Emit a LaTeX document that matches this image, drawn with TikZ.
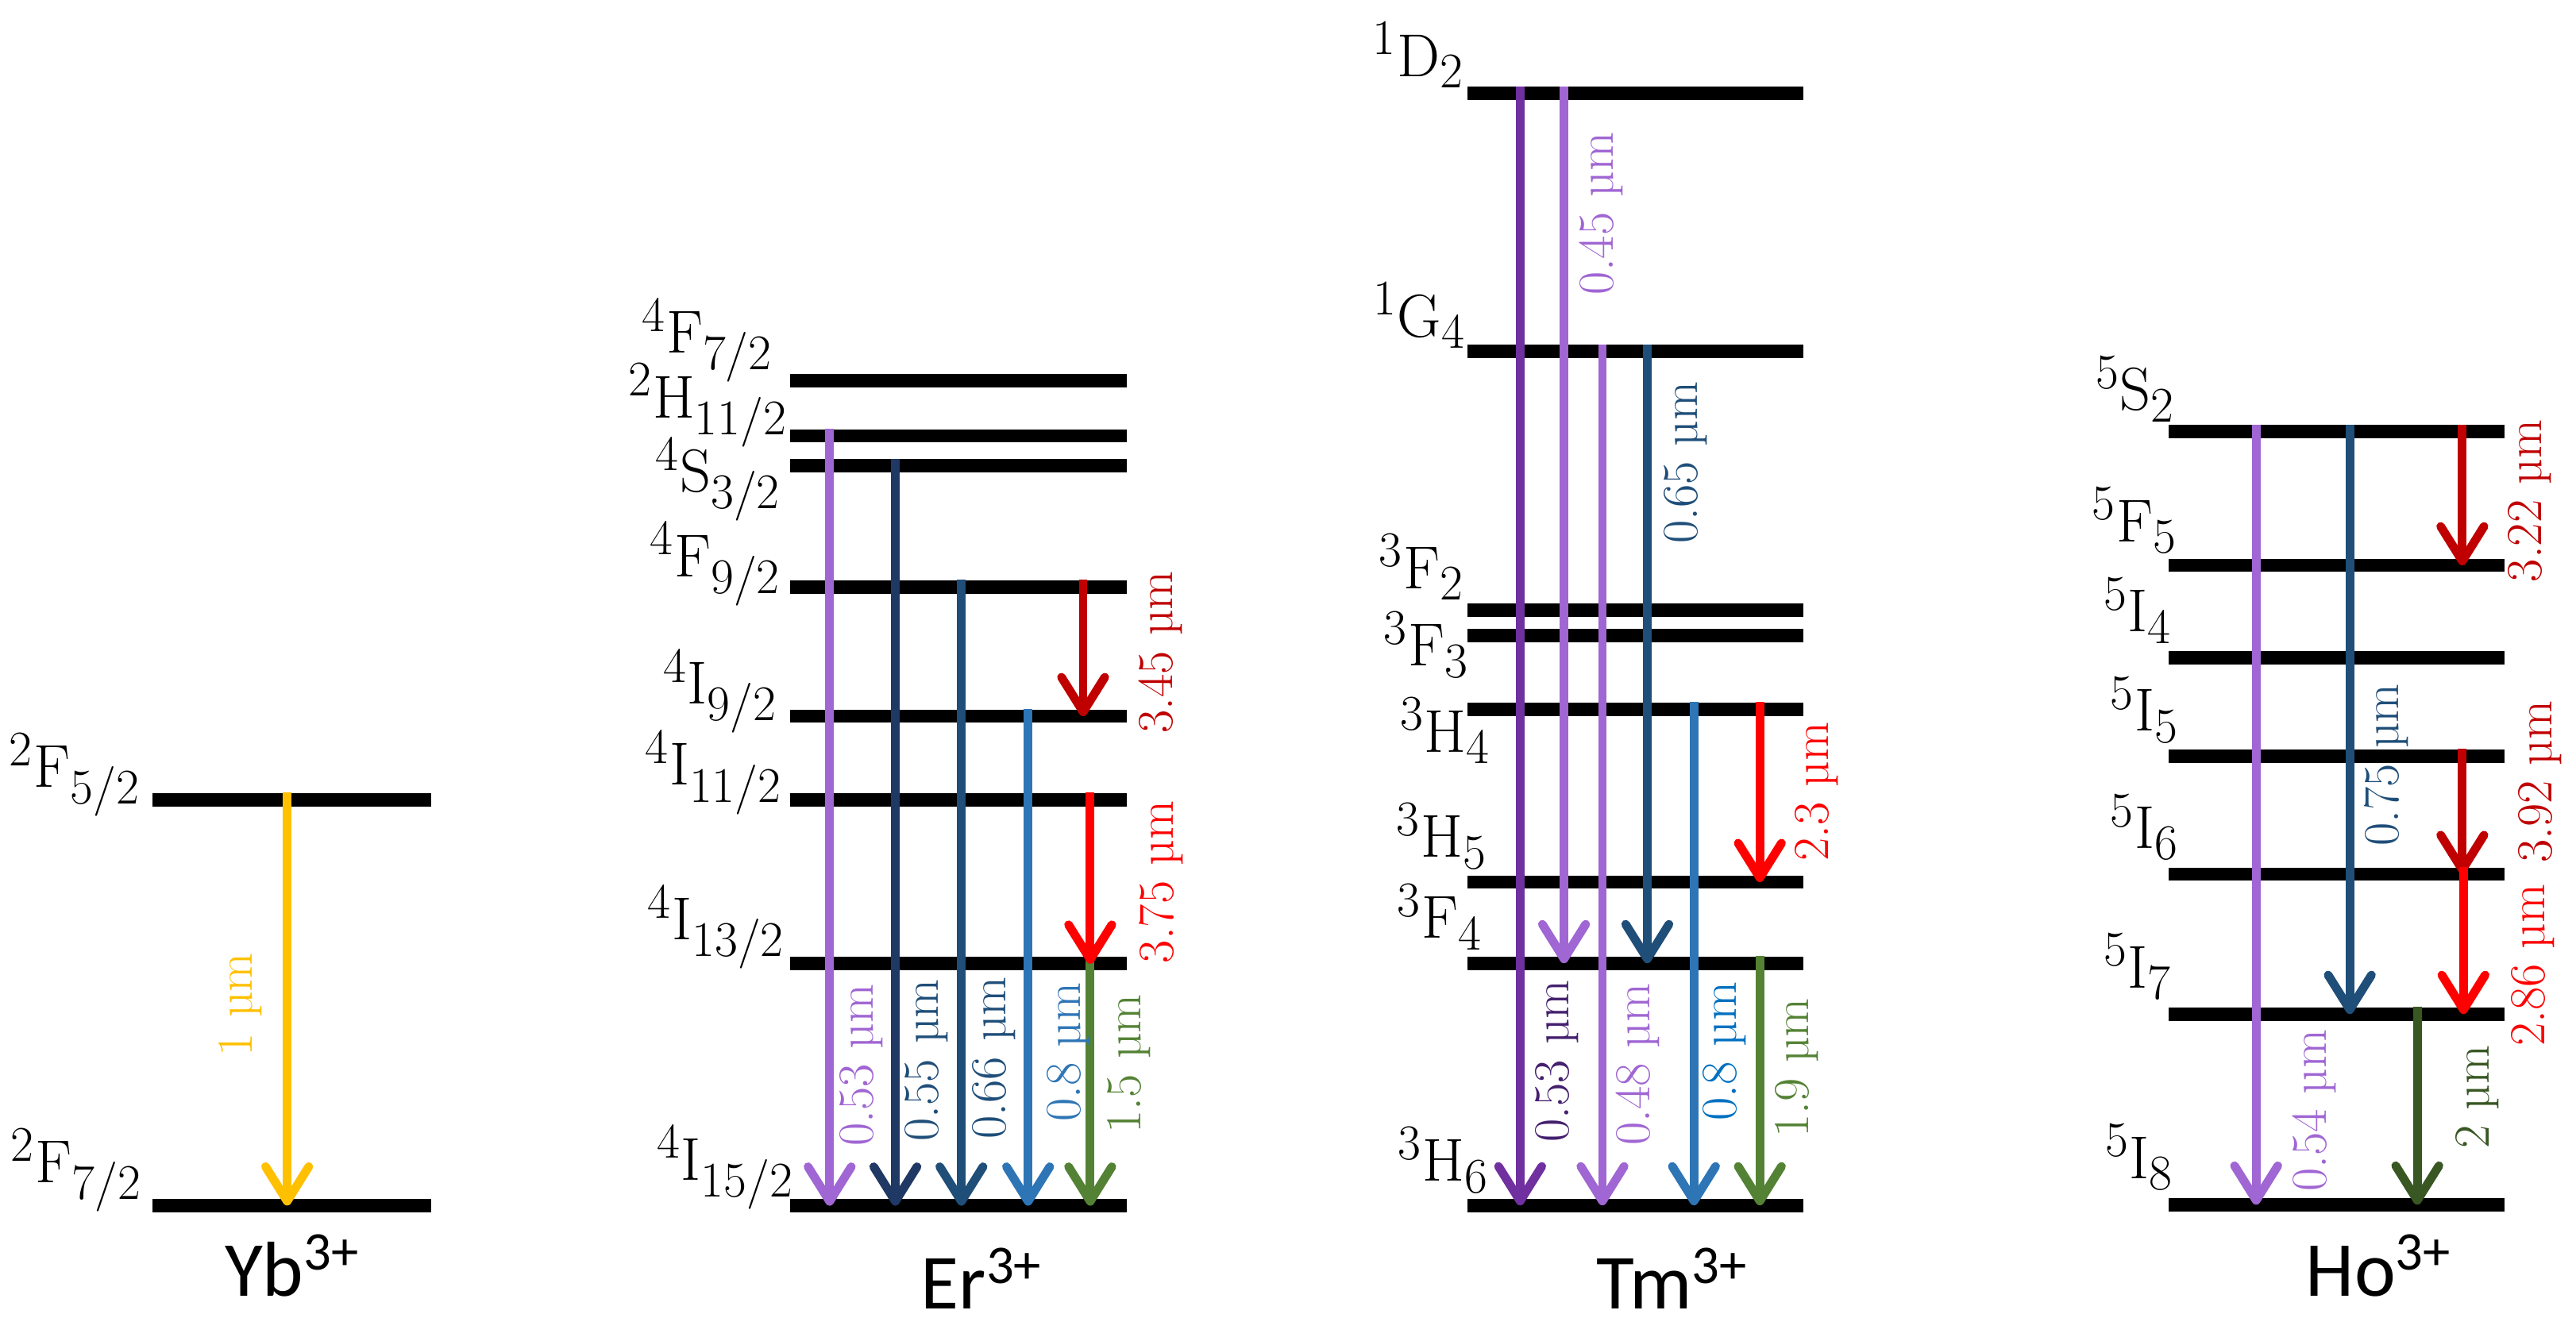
\documentclass[tikz,border=0pt]{standalone}
\usepackage{fontspec}
\newfontfamily\ionfont{Carlito}
\usepackage{xcolor}
\usetikzlibrary{arrows.meta, positioning}

\DeclareMathSizes{21}{21}{16}{12}

\definecolor{ybyellow}{HTML}{FFC000}
\definecolor{lilac}{HTML}{A066D3}
\definecolor{plum}{HTML}{7030A0}
\definecolor{plumtext}{HTML}{44206E}
\definecolor{navydark}{HTML}{203864}
\definecolor{navy}{HTML}{1F4E79}
\definecolor{steel}{HTML}{2E75B6}
\definecolor{skyblue}{HTML}{0070C0}
\definecolor{leaf}{HTML}{548235}
\definecolor{forest}{HTML}{385723}
\definecolor{darkred}{HTML}{C00000}
\definecolor{brightred}{HTML}{FF0000}

\begin{document}
\begin{tikzpicture}[x=0.02cm, y=-0.02cm]
  \tikzset{
    lvl/.style={fill=black, inner sep=0pt, minimum height=4.6pt},
    yblvl/.style={lvl, minimum width=3.40cm},
    ionlvl/.style={lvl, minimum width=4.09cm},
    term/.style={anchor=base east, inner sep=0pt, font=\fontsize{21}{24}\selectfont},
    wlabel/.style={rotate=90, anchor=base, inner sep=0pt, font=\fontsize{17.5}{20}\selectfont},
    ion/.style={anchor=base, inner sep=0pt, font=\ionfont\fontsize{27}{30}\selectfont},
    trans/.style={-{Straight Barb[length=12pt, width=15pt, line cap=round, line join=round]},
                  line width=3pt}
  }
  \useasboundingbox (0,0) rectangle (1568,816);

  % Yb3+
  \node[yblvl] (ybU) at (177.6,486.8) {};
  \node[yblvl] (ybL) at (177.6,733.9) {};
  \node[term] (tYbU) at ([shift={(-6.5,-7.6)}]ybU.west) {$^{2}\mathrm{F}_{5/2}$};
  \node[term] (tYbL) at ([shift={(-5.5,-14)}]ybL.west) {$^{2}\mathrm{F}_{7/2}$};
  \node[ion] (ybName) at (178,789) {Yb\textsuperscript{3+}};

  % Er3+
  \node[ionlvl] (erF72) at (583.4,231.6) {};
  \node[ionlvl] (erH112) at (583.4,265.3) {};
  \node[ionlvl] (erS32) at (583.4,283.6) {};
  \node[ionlvl] (erF92) at (583.4,357.4) {};
  \node[ionlvl] (erI92) at (583.4,436) {};
  \node[ionlvl] (erI112) at (583.4,487) {};
  \node[ionlvl] (erI132) at (583.4,586.7) {};
  \node[ionlvl] (erI152) at (583.4,734) {};
  \node[term] (tErF72) at ([shift={(-10,-16.6)}]erF72.west) {$^{4}\mathrm{F}_{7/2}$};
  \node[term] (tErH112) at ([shift={(-1,-11)}]erH112.west) {$^{2}\mathrm{H}_{11/2}$};
  \node[term] (tErS32) at ([shift={(-5,16)}]erS32.west) {$^{4}\mathrm{S}_{3/2}$};
  \node[term] (tErF92) at ([shift={(-5,-6.4)}]erF92.west) {$^{4}\mathrm{F}_{9/2}$};
  \node[term] (tErI92) at ([shift={(-7.3,-7.4)}]erI92.west) {$^{4}\mathrm{I}_{9/2}$};
  \node[term] (tErI112) at ([shift={(-4.3,-9)}]erI112.west) {$^{4}\mathrm{I}_{11/2}$};
  \node[term] (tErI132) at ([shift={(-2.6,-14.7)}]erI132.west) {$^{4}\mathrm{I}_{13/2}$};
  \node[term] (tErI152) at ([shift={(2.8,-15.6)}]erI152.west) {$^{4}\mathrm{I}_{15/2}$};
  \node[ion] (erName) at (597.6,797) {Er\textsuperscript{3+}};

  % Tm3+
  \node[ionlvl] (tmD2) at (995.5,56.9) {};
  \node[ionlvl] (tmG4) at (995.5,214) {};
  \node[ionlvl] (tmF2) at (995.5,371.3) {};
  \node[ionlvl] (tmF3) at (995.5,387) {};
  \node[ionlvl] (tmH4) at (995.5,431.8) {};
  \node[ionlvl] (tmH5) at (995.5,537) {};
  \node[ionlvl] (tmF4) at (995.5,586.4) {};
  \node[ionlvl] (tmH6) at (995.5,733.8) {};
  \node[term] (tTmD2) at ([shift={(-1.4,-10.4)}]tmD2.west) {$^{1}\mathrm{D}_{2}$};
  \node[term] (tTmG4) at ([shift={(-0.4,-9)}]tmG4.west) {$^{1}\mathrm{G}_{4}$};
  \node[term] (tTmF2) at ([shift={(-1.4,-13)}]tmF2.west) {$^{3}\mathrm{F}_{2}$};
  \node[term] (tTmF3) at ([shift={(1.7,18.4)}]tmF3.west) {$^{3}\mathrm{F}_{3}$};
  \node[term] (tTmH4) at ([shift={(14.8,26)}]tmH4.west) {$^{3}\mathrm{H}_{4}$};
  \node[term] (tTmH5) at ([shift={(12.8,-15.2)}]tmH5.west) {$^{3}\mathrm{H}_{5}$};
  \node[term] (tTmF4) at ([shift={(9.7,-15.3)}]tmF4.west) {$^{3}\mathrm{F}_{4}$};
  \node[term] (tTmH6) at ([shift={(13.7,-14.8)}]tmH6.west) {$^{3}\mathrm{H}_{6}$};
  \node[ion] (tmName) at (1018,797) {Tm\textsuperscript{3+}};

  % Ho3+
  \node[ionlvl] (hoS2) at (1422.1,262.8) {};
  \node[ionlvl] (hoF5) at (1422.1,344.2) {};
  \node[ionlvl] (hoI4) at (1422.1,400.5) {};
  \node[ionlvl] (hoI5) at (1422.1,460.3) {};
  \node[ionlvl] (hoI6) at (1422.1,532.1) {};
  \node[ionlvl] (hoI7) at (1422.1,617.3) {};
  \node[ionlvl] (hoI8) at (1422.1,733.4) {};
  \node[term] (tHoS2) at ([shift={(5,-13)}]hoS2.west) {$^{5}\mathrm{S}_{2}$};
  \node[term] (tHoF5) at ([shift={(6,-14.5)}]hoF5.west) {$^{5}\mathrm{F}_{5}$};
  \node[term] (tHoI4) at ([shift={(3,-15.8)}]hoI4.west) {$^{5}\mathrm{I}_{4}$};
  \node[term] (tHoI5) at ([shift={(7,-15.3)}]hoI5.west) {$^{5}\mathrm{I}_{5}$};
  \node[term] (tHoI6) at ([shift={(7,-15.7)}]hoI6.west) {$^{5}\mathrm{I}_{6}$};
  \node[term] (tHoI7) at ([shift={(3,-16)}]hoI7.west) {$^{5}\mathrm{I}_{7}$};
  \node[term] (tHoI8) at ([shift={(4,-16)}]hoI8.west) {$^{5}\mathrm{I}_{8}$};
  \node[ion] (hoName) at (1448,789) {Ho\textsuperscript{3+}};

  % transitions
  \draw[trans, ybyellow] (174.8,0 |- ybU.north) -- (174.8,0 |- ybL);

  \draw[trans, lilac] (505,0 |- erH112.north) -- (505,0 |- erI152);
  \draw[trans, navydark] (545,0 |- erS32.north) -- (545,0 |- erI152);
  \draw[trans, navy] (585.2,0 |- erF92.north) -- (585.2,0 |- erI152);
  \draw[trans, steel] (625.8,0 |- erI92.north) -- (625.8,0 |- erI152);
  \draw[trans, leaf] (663.6,0 |- erI132.north) -- (663.6,0 |- erI152);
  \draw[trans, darkred] (659.3,0 |- erF92.north) -- (659.3,0 |- erI92);
  \draw[trans, brightred] (663.6,0 |- erI112.north) -- (663.6,0 |- erI132);

  \draw[trans, plum] (925.3,0 |- tmD2.north) -- (925.3,0 |- tmH6);
  \draw[trans, lilac] (952,0 |- tmD2.north) -- (952,0 |- tmF4);
  \draw[trans, lilac] (975.4,0 |- tmG4.north) -- (975.4,0 |- tmH6);
  \draw[trans, navy] (1002.7,0 |- tmG4.north) -- (1002.7,0 |- tmF4);
  \draw[trans, steel] (1031.1,0 |- tmH4.north) -- (1031.1,0 |- tmH6);
  \draw[trans, brightred] (1071.2,0 |- tmH4.north) -- (1071.2,0 |- tmH5);
  \draw[trans, leaf] (1071.2,0 |- tmF4.north) -- (1071.2,0 |- tmH6);

  \draw[trans, lilac] (1373.3,0 |- hoS2.north) -- (1373.3,0 |- hoI8);
  \draw[trans, navy] (1430.3,0 |- hoS2.north) -- (1430.3,0 |- hoI7);
  \draw[trans, darkred] (1498.8,0 |- hoS2.north) -- (1498.8,0 |- hoF5);
  \draw[trans, darkred] (1498.8,0 |- hoI5.north) -- (1498.8,0 |- hoI6);
  \draw[trans, brightred] (1499.5,0 |- hoI6.north) -- (1499.5,0 |- hoI7);
  \draw[trans, forest] (1471.4,0 |- hoI7.north) -- (1471.4,0 |- hoI8);

  % wavelengths
  \node[wlabel, text=ybyellow] (wYb1) at (153.6,611.5) {1 µm};

  \node[wlabel, text=lilac] (wEr053) at (531.3,648.5) {0.53 µm};
  \node[wlabel, text=navy] (wEr055) at (571.2,645.5) {0.55 µm};
  \node[wlabel, text=navy] (wEr066) at (612.2,644) {0.66 µm};
  \node[wlabel, text=steel] (wEr08) at (657.5,640.6) {0.8 µm};
  \node[wlabel, text=leaf] (wEr15) at (694.2,647.6) {1.5 µm};
  \node[wlabel, text=darkred] (wEr345) at (713.6,397) {3.45 µm};
  \node[wlabel, text=brightred] (wEr375) at (714,537) {3.75 µm};

  \node[wlabel, text=lilac] (wTm045) at (982,130) {0.45 µm};
  \node[wlabel, text=navy] (wTm065) at (1033,281.6) {0.65 µm};
  \node[wlabel, text=plumtext] (wTm053) at (955,646) {0.53 µm};
  \node[wlabel, text=lilac] (wTm048) at (1004,648) {0.48 µm};
  \node[wlabel, text=skyblue] (wTm08) at (1057,640) {0.8 µm};
  \node[wlabel, text=leaf] (wTm19) at (1101,650) {1.9 µm};
  \node[wlabel, text=brightred] (wTm23) at (1113,482) {2.3 µm};

  \node[wlabel, text=darkred] (wHo322) at (1547,305) {3.22 µm};
  \node[wlabel, text=navy] (wHo075) at (1460,465.7) {0.75 µm};
  \node[wlabel, text=darkred] (wHo392) at (1553,476) {3.92 µm};
  \node[wlabel, text=brightred] (wHo286) at (1549,587.6) {2.86 µm};
  \node[wlabel, text=lilac] (wHo054) at (1416,676) {0.54 µm};
  \node[wlabel, text=forest] (wHo2) at (1515,667.8) {2 µm};
\end{tikzpicture}
\end{document}
